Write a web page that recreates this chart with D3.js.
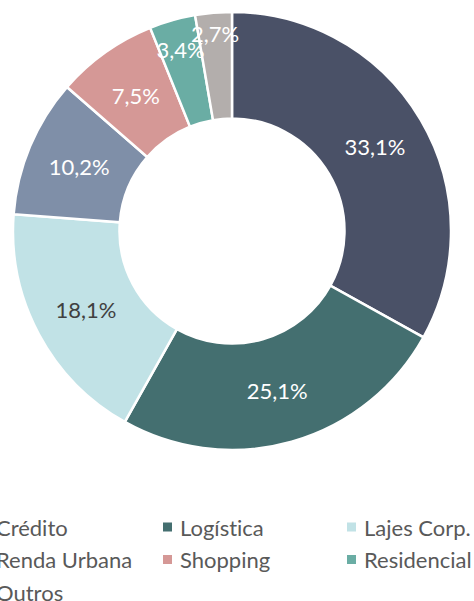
<!DOCTYPE html>
<html>
<head>
<meta charset="utf-8">
<script src="https://cdn.jsdelivr.net/npm/d3@7"></script>
<style>
  html, body { margin: 0; padding: 0; background: #fff; }
  #chart { width: 474px; height: 601px; overflow: hidden; }
  text { font-variant-ligatures: none; font-feature-settings: "liga" 0; }
</style>
</head>
<body>
<div id="chart"></div>
<script>
const categories = ["Crédito", "Logística", "Lajes Corp.", "Renda Urbana", "Shopping", "Residencial", "Outros"];
const shares = [33.1, 25.1, 18.1, 10.2, 7.5, 3.4, 2.7];
const colors = ["#4a5167", "#446f70", "#c1e2e6", "#7f8fa8", "#d59896", "#6aada4", "#b3aeac"];
const labelColors = ["#fff", "#fff", "#404040", "#fff", "#fff", "#fff", "#fff"];

const width = 474, height = 601;
const cx = 232, cy = 231;
const outerR = 219, innerR = 112.5;
const font = "Lato, 'Open Sans', sans-serif";

const svg = d3.select('#chart')
  .append('svg')
  .attr('width', width)
  .attr('height', height);

const pie = d3.pie().sort(null).value(d => d.value);
const arc = d3.arc().innerRadius(innerR).outerRadius(outerR);

const data = categories.map((c, i) => ({ name: c, value: shares[i], color: colors[i], labelColor: labelColors[i] }));
const arcs = pie(data);

const g = svg.append('g').attr('transform', `translate(${cx},${cy})`);

g.selectAll('path')
  .data(arcs)
  .enter()
  .append('path')
  .attr('d', arc)
  .attr('fill', d => d.data.color)
  .attr('stroke', '#fff')
  .attr('stroke-width', 2.5);

// small slices get their label pushed outward (like Excel best fit)
const midR = (innerR + outerR) / 2;
g.selectAll('text.lbl')
  .data(arcs)
  .enter()
  .append('text')
  .attr('class', 'lbl')
  .attr('transform', d => {
    const f = d.data.value / 100;
    const r = midR + Math.max(0, 0.05 - f) * 1430;
    const a = (d.startAngle + d.endAngle) / 2;
    return `translate(${r * Math.sin(a)},${-r * Math.cos(a)})`;
  })
  .attr('text-anchor', 'middle')
  .attr('dominant-baseline', 'central')
  .style('font-family', font)
  .style('font-size', '22px')
  .attr('fill', d => d.data.labelColor)
  .text(d => d.data.value.toFixed(1).replace('.', ',') + '%');

// legend
const colW = 184, rowH = 32.5;
const legend = svg.append('g').attr('transform', 'translate(-21,527)');
const items = legend.selectAll('g')
  .data(data)
  .enter()
  .append('g')
  .attr('transform', (d, i) => `translate(${(i % 3) * colW},${Math.floor(i / 3) * rowH})`);

items.append('rect')
  .attr('x', 0)
  .attr('y', -4.5)
  .attr('width', 9)
  .attr('height', 9)
  .attr('fill', d => d.color);

items.append('text')
  .attr('x', 17)
  .attr('y', 0)
  .attr('dominant-baseline', 'central')
  .style('font-family', font)
  .style('font-size', '22px')
  .attr('fill', '#595959')
  .text(d => d.name);
</script>
</body>
</html>
